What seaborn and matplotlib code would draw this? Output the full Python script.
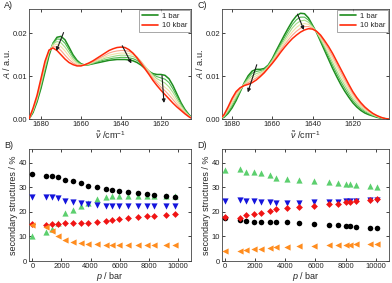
import seaborn as sns
import matplotlib
matplotlib.use("Agg")
from matplotlib import pyplot as plt
from matplotlib.lines import Line2D

sns.set_theme(style="ticks")
plt.rcParams['font.family'] = ['Liberation Sans', 'DejaVu Sans']
plt.rcParams['mathtext.fontset'] = 'custom'
plt.rcParams['mathtext.rm'] = 'Liberation Sans'
plt.rcParams['mathtext.it'] = 'Liberation Sans:italic'

# ---- spectra, panel A ----
wn_a = [1686, 1684, 1682, 1680, 1678, 1676, 1674, 1672, 1670, 1668, 1666, 1664, 1662, 1660,
        1658, 1656, 1654, 1652, 1650, 1648, 1646, 1644, 1642, 1640, 1638, 1636, 1634, 1632,
        1630, 1628, 1626, 1624, 1622, 1620, 1618, 1616, 1614, 1612, 1610, 1608, 1606, 1604]
a_1bar = [0, .0015, .0040, .0072, .0110, .0148, .0177, .0191, .0193, .0185, .0168, .0150, .0137, .0129,
          .0126, .0127, .0129, .0131, .0133, .0135, .0137, .0138, .0139, .0139, .0139, .0138, .0136, .0132,
          .0126, .0118, .0111, .0106, .0104, .0104, .0102, .0094, .0078, .0058, .0038, .0022, .0010, 0]
a_2kbar = [0, .0017, .0043, .0077, .0116, .0153, .0177, .0187, .0186, .0177, .0162, .0146, .0135, .0128,
           .0126, .0127, .0130, .0133, .0136, .0138, .0140, .0142, .0143, .0144, .0144, .0143, .0141, .0137,
           .0130, .0121, .0112, .0104, .0099, .0096, .0093, .0085, .0070, .0052, .0035, .0020, .0009, 0]
a_4kbar = [0, .0019, .0046, .0082, .0121, .0156, .0175, .0181, .0178, .0168, .0155, .0141, .0132, .0127,
           .0126, .0128, .0131, .0135, .0138, .0142, .0144, .0146, .0148, .0149, .0149, .0148, .0146, .0141,
           .0133, .0123, .0112, .0102, .0094, .0089, .0084, .0075, .0062, .0046, .0031, .0018, .0008, 0]
a_6kbar = [0, .0021, .0049, .0086, .0126, .0158, .0172, .0175, .0169, .0159, .0147, .0136, .0129, .0126,
           .0127, .0129, .0133, .0137, .0141, .0145, .0149, .0151, .0153, .0154, .0154, .0153, .0150, .0144,
           .0135, .0123, .0111, .0099, .0089, .0081, .0074, .0066, .0053, .0040, .0027, .0016, .0007, 0]
a_8kbar = [0, .0023, .0052, .0090, .0131, .0160, .0169, .0168, .0160, .0149, .0139, .0131, .0126, .0125,
           .0127, .0130, .0134, .0139, .0144, .0149, .0154, .0157, .0159, .0160, .0160, .0158, .0153, .0145,
           .0134, .0121, .0108, .0095, .0084, .0074, .0066, .0056, .0045, .0034, .0023, .0014, .0006, 0]
a_10kbar = [0, .0025, .0055, .0095, .0135, .0161, .0166, .0160, .0150, .0140, .0132, .0127, .0124, .0124,
            .0127, .0131, .0136, .0142, .0148, .0154, .0160, .0164, .0167, .0168, .0167, .0162, .0154, .0143,
            .0130, .0117, .0104, .0090, .0078, .0067, .0057, .0047, .0037, .0028, .0020, .0012, .0005, 0]

# ---- spectra, panel C ----
wn_c = [1686, 1684, 1682, 1680, 1678, 1676, 1674, 1672, 1670, 1668, 1666, 1664, 1662, 1660,
        1658, 1656, 1654, 1652, 1650, 1648, 1646, 1644, 1642, 1640, 1638, 1636, 1634, 1632,
        1630, 1628, 1626, 1624, 1622, 1620, 1618, 1616, 1614, 1612, 1610, 1608, 1606, 1604, 1602]
c_1bar = [0, .0004, .0013, .0026, .0043, .0063, .0084, .0101, .0112, .0116, .0116, .0118, .0126, .0141,
          .0160, .0178, .0196, .0213, .0229, .0241, .0247, .0246, .0236, .0219, .0202, .0181, .0160, .0139,
          .0118, .0099, .0081, .0065, .0051, .0038, .0028, .0020, .0014, .0010, .0007, .0004, .0002, .0001, 0]
c_2kbar = [0, .0005, .0016, .0030, .0047, .0065, .0083, .0097, .0107, .0111, .0113, .0116, .0125, .0139,
           .0156, .0173, .0190, .0206, .0221, .0232, .0238, .0238, .0231, .0217, .0203, .0184, .0165, .0145,
           .0125, .0106, .0088, .0072, .0057, .0043, .0032, .0024, .0017, .0012, .0008, .0005, .0002, .0001, 0]
c_4kbar = [0, .0006, .0019, .0035, .0051, .0067, .0082, .0093, .0101, .0106, .0109, .0114, .0123, .0137,
           .0153, .0169, .0184, .0199, .0213, .0223, .0229, .0231, .0226, .0215, .0203, .0187, .0169, .0151,
           .0132, .0113, .0095, .0079, .0063, .0048, .0037, .0027, .0020, .0014, .0009, .0006, .0003, .0001, 0]
c_6kbar = [0, .0008, .0022, .0039, .0056, .0069, .0080, .0089, .0096, .0101, .0106, .0112, .0122, .0134,
           .0149, .0164, .0179, .0192, .0204, .0214, .0221, .0223, .0221, .0214, .0204, .0190, .0174, .0157,
           .0139, .0121, .0103, .0085, .0069, .0054, .0041, .0031, .0022, .0016, .0011, .0006, .0003, .0001, 0]
c_8kbar = [0, .0009, .0025, .0044, .0060, .0071, .0079, .0085, .0090, .0096, .0102, .0110, .0120, .0132,
           .0146, .0160, .0173, .0185, .0196, .0205, .0212, .0216, .0216, .0212, .0204, .0193, .0178, .0163,
           .0146, .0128, .0110, .0092, .0075, .0059, .0046, .0034, .0025, .0018, .0012, .0007, .0004, .0001, 0]
c_10kbar = [0, .0010, .0028, .0048, .0064, .0073, .0078, .0081, .0085, .0091, .0099, .0108, .0119, .0130,
            .0142, .0155, .0167, .0178, .0188, .0196, .0203, .0208, .0211, .0210, .0205, .0196, .0183, .0169,
            .0153, .0135, .0117, .0099, .0081, .0064, .0050, .0038, .0028, .0020, .0013, .0008, .0004, .0001, 0]

spec_colors = ['#1e8c1e', '#4fb84f', '#a6dc8a', '#efe2a8', '#f8a58c', '#ff2a0a']

# ---- secondary structures, panel B ----
p_b = [0, 920, 1330, 1740, 2250, 2820, 3330, 3850, 4430, 5070, 5500, 5960, 6600, 7250, 7870, 8330, 9170, 9820]
b_black = [35.4, 34.7, 34.6, 34.0, 32.9, 32.3, 31.5, 30.6, 30.0, 29.2, 28.7, 28.5, 27.9, 27.7, 27.3, 26.8, 26.4, 25.9]
b_blue = [25.8, 25.8, 26.0, 25.6, 24.4, 24.1, 23.5, 23.1, 22.7, 22.3, 22.2, 22.2, 22.2, 22.2, 22.2, 22.2, 22.2, 22.2]
b_green = [10.3, 11.8, 13.2, 15.5, 19.5, 20.8, 22.5, 23.5, 25.0, 26.0, 26.5, 26.5, 26.5, 26.5, 26.5, 26.3, 26.5, 26.5]
b_red = [15.2, 14.5, 14.9, 15.1, 15.3, 15.3, 15.3, 15.5, 15.9, 16.3, 16.6, 16.9, 17.4, 17.7, 18.1, 18.4, 18.7, 19.1]
b_orange = [14.5, 14.0, 12.0, 10.3, 8.5, 7.8, 7.5, 7.0, 6.8, 6.6, 6.6, 6.6, 6.6, 6.6, 6.6, 6.6, 6.6, 6.6]

# ---- secondary structures, panel D ----
p_d = [0, 1000, 1400, 1900, 2400, 3000, 3400, 4100, 4900, 5900, 6900, 7500, 8000, 8300, 8700, 9600, 10100]
d_green = [36.8, 37.2, 36.0, 36.0, 35.6, 34.8, 33.6, 33.3, 33.0, 32.5, 32.1, 31.6, 31.4, 31.4, 30.8, 30.4, 30.0]
d_blue = [24.3, 24.8, 24.5, 24.2, 24.0, 23.8, 23.6, 23.6, 23.7, 23.8, 24.0, 24.0, 24.3, 24.3, 24.5, 24.6, 24.8]
d_red = [17.8, 17.3, 18.6, 19.0, 19.4, 20.2, 21.0, 21.4, 22.0, 22.5, 23.0, 23.3, 23.8, 24.0, 24.3, 24.6, 25.0]
d_black = [17.6, 16.6, 16.1, 15.9, 15.9, 15.9, 16.0, 15.9, 15.6, 15.1, 14.8, 14.6, 14.3, 14.2, 13.9, 13.6, 13.3]
d_orange = [4.0, 4.0, 4.6, 4.8, 5.0, 5.4, 5.6, 5.8, 6.0, 6.2, 6.4, 6.5, 6.6, 6.6, 6.8, 7.0, 7.1]

legend_labels = ['1 bar', '10 kbar']


def style_axes(ax):
    ax.tick_params(direction='in', top=True, right=True, length=2.5, width=0.6,
                   labelsize=5.5, pad=1.5, colors='#222222')
    for s in ax.spines.values():
        s.set_linewidth(0.6)
        s.set_color('#444444')


def plot_spectra(ax, wn, curves, xlim, arrows):
    for i, (y, col) in enumerate(zip(curves, spec_colors)):
        lw = 1.1 if i in (0, len(curves) - 1) else 0.8
        sns.lineplot(x=wn, y=y, color=col, lw=lw, ax=ax, zorder=2 + i)
    ax.set_xlim(*xlim)
    ax.set_ylim(0, 0.0257)
    ax.set_xticks([1680, 1660, 1640, 1620])
    ax.set_yticks([0.0, 0.01, 0.02])
    ax.set_yticklabels(['0.00', '0.01', '0.02'])
    ax.set_xlabel(r'$\tilde{\nu}$ /cm$^{-1}$', fontsize=6.5, labelpad=0.5)
    ax.set_ylabel(r'$A$ / a.u.', fontsize=6.5, labelpad=0.5)
    for (x0, y0), (x1, y1) in arrows:
        ax.annotate('', xy=(x1, y1), xytext=(x0, y0), zorder=20,
                    arrowprops=dict(arrowstyle='-|>', color='k', lw=0.8, mutation_scale=5))
    handles = [Line2D([], [], color=spec_colors[0], lw=1.2),
               Line2D([], [], color=spec_colors[-1], lw=1.2)]
    ax.legend(handles, legend_labels, loc='upper right', fontsize=5.5, frameon=True,
              fancybox=False, edgecolor='#666666', borderaxespad=0.15, handlelength=2.2,
              handletextpad=0.5, borderpad=0.3, labelspacing=0.3).get_frame().set_linewidth(0.5)
    style_axes(ax)


def plot_struct(ax, p, series, xlim):
    for y, col, mk, s in series:
        sns.scatterplot(x=p, y=y, color=col, marker=mk, s=s, linewidth=0, ax=ax, zorder=3)
    ax.set_xlim(*xlim)
    ax.set_ylim(0, 45.5)
    ax.set_xticks([0, 2000, 4000, 6000, 8000, 10000])
    ax.set_yticks([0, 10, 20, 30, 40])
    ax.set_xlabel(r'$p$ / bar', fontsize=6.5, labelpad=0)
    ax.set_ylabel('secondary structures / %', fontsize=6.5, labelpad=0.5)
    style_axes(ax)


fig = plt.figure(figsize=(3.92, 2.83), dpi=100)
ax_a = fig.add_axes([29 / 392, 1 - 119 / 283, 162 / 392, 110 / 283])
ax_c = fig.add_axes([222 / 392, 1 - 119 / 283, 167 / 392, 110 / 283])
ax_b = fig.add_axes([29 / 392, 1 - 261 / 283, 162 / 392, 112 / 283])
ax_d = fig.add_axes([222 / 392, 1 - 261 / 283, 167 / 392, 112 / 283])

plot_spectra(ax_a, wn_a, [a_1bar, a_2kbar, a_4kbar, a_6kbar, a_8kbar, a_10kbar], (1686, 1605),
             [((1668.2, 0.0208), (1672.9, 0.0153)),
              ((1640.0, 0.0177), (1634.2, 0.0124)),
              ((1619.6, 0.0108), (1618.4, 0.0031))])
plot_spectra(ax_c, wn_c, [c_1bar, c_2kbar, c_4kbar, c_6kbar, c_8kbar, c_10kbar], (1685, 1602),
             [((1648.0, 0.0251), (1643.8, 0.0202)),
              ((1667.3, 0.0133), (1672.6, 0.0056))])

col_black, col_blue, col_green, col_red, col_orange = '#000000', '#1414dc', '#5ccf6e', '#f01414', '#ff8c1e'
plot_struct(ax_b, p_b, [(b_green, col_green, '^', 20), (b_black, col_black, 'o', 16),
                        (b_blue, col_blue, 'v', 20), (b_red, col_red, 'D', 12),
                        (b_orange, col_orange, '<', 20)], (-230, 10900))
plot_struct(ax_d, p_d, [(d_green, col_green, '^', 20), (d_black, col_black, 'o', 16),
                        (d_blue, col_blue, 'v', 20), (d_red, col_red, 'D', 12),
                        (d_orange, col_orange, '<', 20)], (-200, 10880))

for lbl, x, y in [('A)', 4, 6), ('C)', 197, 6), ('B)', 4, 146), ('D)', 197, 146)]:
    fig.text(x / 392, 1 - y / 283, lbl, fontsize=6.5, va='center', ha='left')

fig.savefig('out.png', dpi=100)
